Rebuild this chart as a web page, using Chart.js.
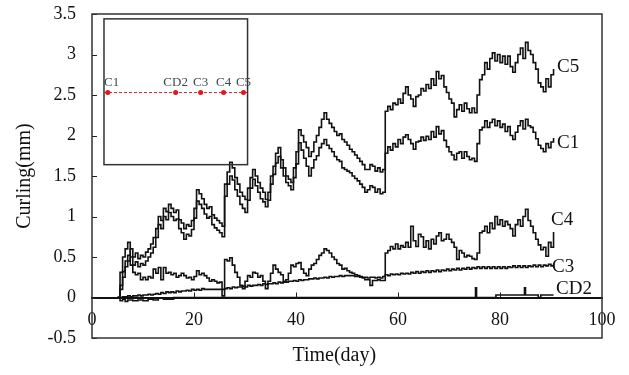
<!DOCTYPE html>
<html>
<head>
<meta charset="utf-8">
<script src="https://cdn.jsdelivr.net/npm/chart.js@4.4.1/dist/chart.umd.min.js"></script>
<style>
  html, body { margin: 0; padding: 0; background: #fff; }
  #wrap { width: 629px; height: 375px; }
</style>
</head>
<body>
<div id="wrap"><canvas id="curl"></canvas></div>
<script>
// sampling grid (day)
const days = [
  5, 5.5, 6, 6.5, 7, 7.5, 8, 8.5, 9, 9.5,
  10, 10.5, 11, 11.5, 12, 12.5, 13, 13.5, 14, 14.5,
  15, 15.5, 16, 16.5, 17, 17.5, 18, 18.5, 19, 19.5,
  20, 20.5, 21, 21.5, 22, 22.5, 23, 23.5, 24, 24.5,
  25, 25.5, 26, 26.5, 27, 27.5, 28, 28.5, 29, 29.5,
  30, 30.5, 31, 31.5, 32, 32.5, 33, 33.5, 34, 34.5,
  35, 35.5, 36, 36.5, 37, 37.5, 38, 38.5, 39, 39.5,
  40, 40.5, 41, 41.5, 42, 42.5, 43, 43.5, 44, 44.5,
  45, 45.5, 46, 46.5, 47, 47.5, 48, 48.5, 49, 49.5,
  50, 50.5, 51, 51.5, 52, 52.5, 53, 53.5, 54, 54.5,
  55, 55.5, 56, 56.5, 57, 57.5, 58, 58.5, 59, 59.5,
  60, 60.5, 61, 61.5, 62, 62.5, 63, 63.5, 64, 64.5,
  65, 65.5, 66, 66.5, 67, 67.5, 68, 68.5, 69, 69.5,
  70, 70.5, 71, 71.5, 72, 72.5, 73, 73.5, 74, 74.5,
  75, 75.5, 76, 76.5, 77, 77.5, 78, 78.5, 79, 79.5,
  80, 80.5, 81, 81.5, 82, 82.5, 83, 83.5, 84, 84.5,
  85, 85.5, 86, 86.5, 87, 87.5, 88, 88.5, 89, 89.5,
  90, 90.5
];

const c5 = [
  0, 0.15, 0.32, 0.45, 0.52, 0.6, 0.5, 0.55, 0.48, 0.52,
  0.5, 0.56, 0.6, 0.66, 0.74, 0.85, 1.0, 0.95, 1.1, 1.06,
  1.15, 1.1, 1.05, 1.08, 0.96, 0.92, 0.85, 0.9, 0.88, 0.95,
  1.1, 1.33, 1.28, 1.22, 1.15, 1.1, 1.12, 1.02, 0.98, 0.95,
  0.92, 0.88, 1.4, 1.55, 1.67, 1.6, 1.48, 1.4, 1.3, 1.25,
  1.21, 1.35, 1.48, 1.58, 1.5, 1.42, 1.35, 1.3, 1.21, 1.3,
  1.5, 1.62, 1.78, 1.85, 1.7, 1.6, 1.5, 1.46, 1.42, 1.6,
  1.8, 2.07, 2.0, 1.92, 1.85, 1.74, 1.8, 1.92, 2.0, 2.1,
  2.2, 2.28, 2.2, 2.15, 2.1, 2.05, 2.0, 2.02, 1.95, 1.92,
  1.88, 1.83, 1.8, 1.76, 1.72, 1.68, 1.64, 1.58, 1.58, 1.64,
  1.62, 1.56, 1.6, 1.55, 1.58, 2.3, 2.36, 2.32, 2.4, 2.38,
  2.45, 2.4, 2.52, 2.6, 2.5, 2.45, 2.36, 2.48, 2.5, 2.58,
  2.55, 2.63, 2.58, 2.7, 2.62, 2.79, 2.7, 2.74, 2.6, 2.53,
  2.45, 2.4, 2.23, 2.32, 2.38, 2.3, 2.4, 2.33, 2.28, 2.34,
  2.28, 2.5, 2.69, 2.75, 2.9, 2.82, 2.95, 3.02, 2.92, 3.0,
  2.9, 2.98, 2.88, 2.98, 2.85, 2.78, 2.9, 3.0, 3.08, 2.95,
  3.15, 3.05, 3.0, 2.9, 2.82, 2.65, 2.6, 2.54, 2.7, 2.6,
  2.75, 2.82
];

const c1 = [
  0, 0.1, 0.25, 0.38, 0.45, 0.5, 0.4, 0.44, 0.38, 0.42,
  0.4, 0.45, 0.5, 0.55, 0.62, 0.74, 0.9, 0.85, 1.0, 0.96,
  1.05, 1.0, 0.95, 0.97, 0.85, 0.8, 0.72, 0.78, 0.76, 0.84,
  0.98, 1.19, 1.15, 1.1, 1.03, 0.98, 1.0, 0.9, 0.86, 0.83,
  0.8, 0.75, 1.25, 1.4, 1.5, 1.45, 1.33, 1.25, 1.15, 1.1,
  1.05, 1.2, 1.35, 1.46, 1.38, 1.3, 1.22, 1.18, 1.12, 1.2,
  1.4, 1.52, 1.66, 1.74, 1.6, 1.5, 1.42, 1.38, 1.33, 1.48,
  1.65, 1.91, 1.82, 1.72, 1.62, 1.5, 1.6, 1.7, 1.75, 1.85,
  1.9, 1.95, 1.88, 1.84, 1.8, 1.74, 1.7, 1.68, 1.6, 1.58,
  1.56, 1.54, 1.5, 1.47, 1.44, 1.4, 1.36, 1.3, 1.33, 1.38,
  1.36, 1.3, 1.34, 1.28, 1.3, 1.78, 1.86, 1.82, 1.9, 1.86,
  1.95, 1.9, 1.98, 2.01, 1.95, 1.9, 1.83, 1.92, 1.93, 1.98,
  1.94, 1.99, 1.95, 2.05, 1.98, 2.11, 2.02, 2.06, 1.94, 1.86,
  1.8, 1.76, 1.7, 1.78, 1.8, 1.72, 1.8, 1.74, 1.7, 1.72,
  1.68, 1.9, 2.07, 2.1, 2.18, 2.1, 2.16, 2.2, 2.12, 2.18,
  2.1, 2.14, 2.05, 2.11, 2.0, 1.95, 2.04, 2.12, 2.18, 2.08,
  2.2, 2.12, 2.1, 2.04, 1.96, 1.88, 1.84, 1.8, 1.9, 1.85,
  1.92, 1.97
];

const c4 = [
  0, 0.31, 0.5, 0.6, 0.68, 0.4, 0.31, 0.28, 0.3, 0.22,
  0.25, 0.22, 0.26, 0.24, 0.35, 0.3, 0.37, 0.22, 0.37, 0.3,
  0.31, 0.28, 0.3, 0.25, 0.27, 0.3, 0.27, 0.24, 0.25, 0.22,
  0.26, 0.33, 0.28, 0.3, 0.27, 0.24, 0.2, 0.22, 0.2, 0.18,
  0.19, 0.02, 0.47, 0.45, 0.49, 0.4, 0.31, 0.25, 0.15, 0.11,
  0.2, 0.27, 0.25, 0.31, 0.3, 0.25, 0.27, 0.2, 0.11, 0.2,
  0.3, 0.4, 0.35, 0.31, 0.28, 0.2, 0.22, 0.3, 0.4, 0.38,
  0.42, 0.43, 0.35, 0.3, 0.27, 0.35, 0.4, 0.42, 0.47, 0.52,
  0.55, 0.6, 0.58, 0.55, 0.5, 0.47, 0.42, 0.4, 0.35, 0.36,
  0.33, 0.31, 0.3, 0.28, 0.27, 0.26, 0.24, 0.22, 0.22, 0.15,
  0.21, 0.21, 0.22, 0.21, 0.21, 0.55, 0.58, 0.63, 0.6, 0.66,
  0.6, 0.64, 0.62, 0.68, 0.62, 0.88, 0.7, 0.63, 0.78, 0.75,
  0.62, 0.7, 0.6, 0.72, 0.66, 0.76, 0.8, 0.7, 0.72, 0.78,
  0.72, 0.68, 0.62, 0.47, 0.58, 0.55, 0.5, 0.52, 0.51, 0.48,
  0.47, 0.55, 0.8, 0.82, 0.88, 0.8, 0.92, 0.85, 1.0, 0.9,
  0.96, 0.88, 0.94, 0.9, 0.85, 0.76, 0.9, 0.96, 0.88, 1.0,
  1.09, 0.95, 0.88, 0.8, 0.72, 0.65, 0.59, 0.62, 0.51, 0.68,
  0.62, 0.81
];

const c3 = [
  0, 0, 0.01, 0.01, 0.02, 0.01, 0.02, 0.02, 0.03, 0.02,
  0.03, 0.03, 0.04, 0.03, 0.04, 0.05, 0.04, 0.06, 0.05, 0.07,
  0.06, 0.07, 0.06, 0.08, 0.07, 0.08, 0.08, 0.09, 0.08, 0.1,
  0.09, 0.1, 0.09, 0.11, 0.1, 0.1, 0.1, 0.1, 0.1, 0.1,
  0.1, 0.1, 0.11, 0.12, 0.11, 0.13, 0.12, 0.13, 0.13, 0.14,
  0.13, 0.15, 0.14, 0.15, 0.15, 0.16, 0.15, 0.17, 0.16, 0.17,
  0.17, 0.18, 0.17, 0.19, 0.18, 0.19, 0.19, 0.2, 0.2, 0.21,
  0.2, 0.22, 0.21, 0.22, 0.22, 0.23, 0.23, 0.24, 0.23, 0.24,
  0.24, 0.25, 0.24, 0.26, 0.25, 0.26, 0.26, 0.27, 0.26, 0.27,
  0.27, 0.27, 0.27, 0.26, 0.26, 0.25, 0.25, 0.25, 0.24, 0.25,
  0.25, 0.24, 0.25, 0.24, 0.26, 0.28, 0.27, 0.29, 0.28, 0.29,
  0.28, 0.3, 0.29, 0.3, 0.29, 0.31, 0.3, 0.32, 0.3, 0.32,
  0.31, 0.33, 0.31, 0.33, 0.32, 0.34, 0.32, 0.34, 0.33, 0.35,
  0.33, 0.35, 0.34, 0.36, 0.34, 0.36, 0.35, 0.37, 0.35, 0.37,
  0.36, 0.38, 0.36, 0.38, 0.36, 0.38, 0.36, 0.38, 0.36, 0.38,
  0.36, 0.38, 0.36, 0.38, 0.37, 0.39, 0.37, 0.39, 0.37, 0.39,
  0.37, 0.39, 0.38, 0.4, 0.38, 0.4, 0.38, 0.4, 0.39, 0.41,
  0.39, 0.41
];

// CD2 is almost flat, so it only keeps its own turning points
const cd2Days = [5, 5.5, 6, 6.5, 7, 8, 9, 10, 11, 12, 13, 14, 16,
  75.1, 75.2, 75.4, 79, 79.2, 84.7, 84.8, 85, 87, 87.5, 88, 90.5];
const cd2 = [0, -0.04, -0.02, -0.05, -0.03, -0.04, -0.03, -0.04, -0.02, -0.03, -0.01, -0.02, 0,
  0, 0.12, 0, 0, 0.03, 0.03, 0.12, 0.03, 0.03, 0, 0.03, 0.03];

const xTicks = [0, 20, 40, 60, 80, 100];
const yTicks = [-0.5, 0, 0.5, 1, 1.5, 2, 2.5, 3, 3.5];

// end-of-line names, anchored in data units
const endLabels = [
  { text: "C5", x: 91.2, y: 2.85 },
  { text: "C1", x: 91.2, y: 1.91 },
  { text: "C4", x: 90.0, y: 0.96 },
  { text: "C3", x: 90.2, y: 0.38 },
  { text: "CD2", x: 91.0, y: 0.1 }
];

// sketch of the gauge layout (upper-left box)
const insetNames = ["C1", "CD2", "C3", "C4", "C5"];
const insetSpots = [3.1, 16.4, 21.3, 25.8, 29.7];
const insetBox = { left: 2.35, right: 30.5, top: 3.44, bottom: 1.64, line: 2.53 };

const SERIF = "'Liberation Serif', 'Times New Roman', serif";

function pairs(xs, ys) {
  return xs.map((x, i) => ({ x: x, y: ys[i] }));
}

function lineSet(label, xs, ys) {
  return {
    label: label,
    data: pairs(xs, ys),
    borderColor: "#111",
    borderWidth: 1.6,
    pointRadius: 0,
    tension: 0,
    stepped: true,
    fill: false
  };
}

// frame, inward ticks, labels and the inset sketch
const decor = {
  id: "decor",
  afterDatasetsDraw(chart) {
    const { ctx, chartArea: a, scales: { x, y } } = chart;
    ctx.save();

    // inward ticks
    ctx.strokeStyle = "#222";
    ctx.lineWidth = 1;
    yTicks.forEach(v => {
      const py = Math.round(y.getPixelForValue(v)) + 0.5;
      ctx.beginPath();
      ctx.moveTo(a.left, py);
      ctx.lineTo(a.left + 5, py);
      ctx.stroke();
    });
    const zero = y.getPixelForValue(0);
    xTicks.slice(1, -1).forEach(v => {
      const px = Math.round(x.getPixelForValue(v)) + 0.5;
      ctx.beginPath();
      ctx.moveTo(px, zero);
      ctx.lineTo(px, zero - 5);
      ctx.stroke();
    });

    // outer box
    ctx.strokeStyle = "#333";
    ctx.lineWidth = 1.5;
    ctx.strokeRect(a.left, a.top, a.right - a.left, a.bottom - a.top);

    // names at the end of each line
    ctx.fillStyle = "#111";
    ctx.font = "19px " + SERIF;
    ctx.textAlign = "left";
    ctx.textBaseline = "middle";
    endLabels.forEach(l => {
      ctx.fillText(l.text, x.getPixelForValue(l.x), y.getPixelForValue(l.y));
    });

    // x axis title
    ctx.font = "20px " + SERIF;
    ctx.textAlign = "center";
    ctx.fillText("Time(day)", x.getPixelForValue(47.5), 356);

    // inset
    const bl = x.getPixelForValue(insetBox.left);
    const br = x.getPixelForValue(insetBox.right);
    const bt = y.getPixelForValue(insetBox.top);
    const bb = y.getPixelForValue(insetBox.bottom);
    ctx.strokeStyle = "#333";
    ctx.lineWidth = 1.5;
    ctx.strokeRect(bl, bt, br - bl, bb - bt);

    const ly = y.getPixelForValue(insetBox.line);
    ctx.strokeStyle = "#b03030";
    ctx.lineWidth = 1;
    ctx.setLineDash([3, 2]);
    ctx.beginPath();
    ctx.moveTo(bl, ly);
    ctx.lineTo(br, ly);
    ctx.stroke();
    ctx.setLineDash([]);

    ctx.font = "13px " + SERIF;
    ctx.textBaseline = "bottom";
    insetSpots.forEach((d, i) => {
      const px = x.getPixelForValue(d);
      ctx.fillStyle = "#e01818";
      ctx.beginPath();
      ctx.arc(px, ly, 2.5, 0, Math.PI * 2);
      ctx.fill();
      ctx.fillStyle = "#3a4a50";
      ctx.textAlign = i === 0 ? "left" : "center";
      ctx.fillText(insetNames[i], i === 0 ? bl : px, ly - 3);
    });

    ctx.restore();
  }
};

const chart = new Chart(document.getElementById("curl"), {
  type: "line",
  data: {
    datasets: [
      lineSet("C5", days, c5),
      lineSet("C1", days, c1),
      lineSet("C4", days, c4),
      lineSet("C3", days, c3),
      lineSet("CD2", cd2Days, cd2)
    ]
  },
  options: {
    responsive: true,
    maintainAspectRatio: false,
    animation: false,
    layout: { padding: { top: 14, right: 27, bottom: 37, left: 0 } },
    plugins: {
      legend: { display: false },
      tooltip: { enabled: false }
    },
    scales: {
      x: {
        type: "linear",
        position: { y: 0 },
        min: 0,
        max: 100,
        afterBuildTicks: s => { s.ticks = xTicks.map(v => ({ value: v })); },
        grid: { display: false, drawTicks: false },
        border: { display: true, color: "#111", width: 2 },
        ticks: {
          color: "#111",
          font: { family: SERIF, size: 18 },
          padding: 12,
          maxRotation: 0
        }
      },
      y: {
        min: -0.5,
        max: 3.5,
        afterBuildTicks: s => { s.ticks = yTicks.map(v => ({ value: v })); },
        afterFit: s => { s.width = 92; s.paddingTop = 0; s.paddingBottom = 0; },
        grid: { display: false, drawTicks: false },
        border: { display: false },
        ticks: {
          color: "#111",
          font: { family: SERIF, size: 18 },
          padding: 16,
          callback: v => String(v)
        },
        title: {
          display: true,
          text: "Curling(mm)",
          color: "#111",
          font: { family: SERIF, size: 20 },
          padding: { top: 13, bottom: 0 }
        }
      }
    }
  },
  plugins: [decor]
});
</script>
</body>
</html>
